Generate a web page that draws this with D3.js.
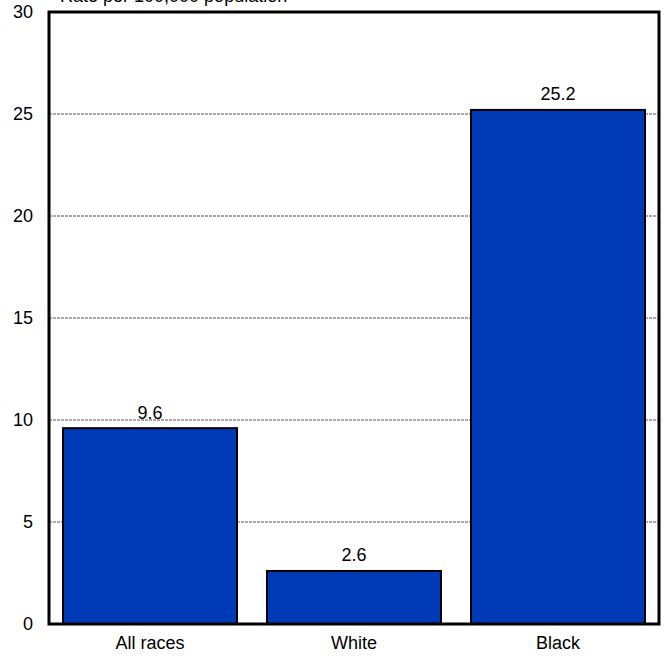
<!DOCTYPE html>
<html><head><meta charset="utf-8">
<script src="https://cdn.jsdelivr.net/npm/d3@7"></script>
<style>body{margin:0;background:#fff}svg{display:block}text{font-family:"Liberation Sans",Arial,sans-serif;fill:#000}</style>
</head><body><svg id="c" width="665" height="656"></svg>
<script>
const categories = ["All races", "White", "Black"];
const values = [9.6, 2.6, 25.2];
const yTicks = [0, 5, 10, 15, 20, 25, 30];
const yTitle = "Rate per 100,000 population";

const svg = d3.select("#c");
const L = 49, R = 659, T = 12, B = 624;
const FONT = '"Liberation Sans",Arial,sans-serif';
const x = d3.scaleBand().domain(categories).range([L - 1, R + 1]).paddingInner(0.147).paddingOuter(0.0735);
const y = d3.scaleLinear().domain([0, 30]).range([B, T]);

// gridlines
svg.append("g").selectAll("line").data(yTicks.filter(d => d > 0 && d < 30)).join("line")
  .attr("x1", L).attr("x2", R).attr("y1", d => y(d)).attr("y2", d => y(d))
  .attr("stroke", "#555").attr("stroke-width", 1).attr("stroke-dasharray", "3,1");

// bars
svg.append("g").selectAll("rect").data(values).join("rect")
  .attr("x", (d, i) => x(categories[i])).attr("width", x.bandwidth())
  .attr("y", d => y(d)).attr("height", d => B - y(d))
  .attr("fill", "#0039b6").attr("stroke", "#000").attr("stroke-width", 2);

// value labels
svg.append("g").selectAll("text").data(values).join("text")
  .attr("x", (d, i) => x(categories[i]) + x.bandwidth() / 2).attr("y", d => y(d) - 9.5)
  .attr("text-anchor", "middle").attr("font-size", 18).text(d => d.toFixed(1));

// frame
svg.append("rect").attr("x", L).attr("y", T).attr("width", R - L).attr("height", B - T)
  .attr("fill", "none").attr("stroke", "#000").attr("stroke-width", 3);

// y axis labels
const yAxis = d3.axisLeft(y).tickValues(yTicks).tickSize(0).tickPadding(16);
const gy = svg.append("g").attr("transform", `translate(${L},0)`).call(yAxis);
gy.select(".domain").remove();
gy.selectAll("text").attr("font-size", 18).style("font-family", FONT).attr("fill", "#000");

// x axis labels
const xAxis = d3.axisBottom(x).tickSize(0).tickPadding(12);
const gx = svg.append("g").attr("transform", `translate(0,${B})`).call(xAxis);
gx.select(".domain").remove();
gx.selectAll("text").attr("font-size", 18).style("font-family", FONT).attr("fill", "#000");

// title (clipped at the top edge as in the reference)
svg.append("text").attr("x", 60).attr("y", 1.5).attr("font-size", 18).text(yTitle);
</script></body></html>
